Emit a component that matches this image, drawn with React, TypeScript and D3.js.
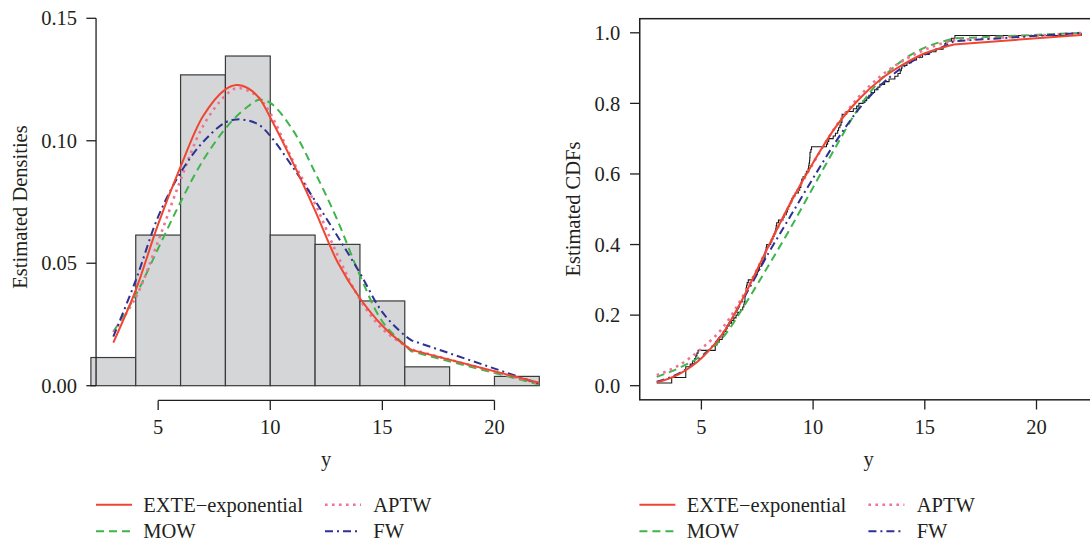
import React from 'react';
import * as d3 from 'd3';

// ---------- data ----------
const histBreaks = [2, 4, 6, 8, 10, 12, 14, 16, 18, 20, 22];
const histDensity = [0.0115, 0.0615, 0.1269, 0.1346, 0.0615, 0.0577, 0.0346, 0.0077, 0, 0.0038];

const pdfX = [3, 4, 5, 6, 7, 8, 8.5, 9, 9.5, 10, 11, 12, 13, 14, 15, 16, 16.3, 22];
const pdfEXTE = [0.0176, 0.039, 0.066, 0.0894, 0.11, 0.121, 0.1228, 0.1215, 0.1175, 0.1095, 0.0913, 0.0715, 0.0505, 0.0357, 0.0245, 0.0165, 0.0146, 0.0012];
const pdfAPTW = [0.0219, 0.036, 0.059, 0.084, 0.106, 0.1185, 0.1215, 0.1205, 0.1175, 0.1112, 0.092, 0.0743, 0.0533, 0.0352, 0.0232, 0.0165, 0.0148, 0.0008];
const pdfMOW = [0.022, 0.037, 0.056, 0.075, 0.092, 0.105, 0.11, 0.114, 0.1167, 0.1155, 0.1045, 0.087, 0.0675, 0.045, 0.0262, 0.0165, 0.014, 0.0005];
const pdfFW = [0.02, 0.043, 0.069, 0.087, 0.0995, 0.1075, 0.1087, 0.1083, 0.1065, 0.102, 0.0893, 0.0755, 0.061, 0.046, 0.03, 0.0205, 0.0185, 0.0008];

const cdfX = [3, 4, 5, 6, 7, 8, 9, 10, 11, 12, 13, 14, 15, 16, 16.3, 22];
const cdfEXTE = [0.009, 0.033, 0.078, 0.152, 0.265, 0.395, 0.52, 0.632, 0.732, 0.808, 0.867, 0.909, 0.942, 0.962, 0.967, 0.994];
const cdfAPTW = [0.03, 0.058, 0.105, 0.168, 0.27, 0.395, 0.518, 0.63, 0.733, 0.815, 0.876, 0.92, 0.952, 0.974, 0.979, 0.9995];
const cdfMOW = [0.025, 0.05, 0.085, 0.14, 0.235, 0.34, 0.448, 0.562, 0.675, 0.783, 0.865, 0.922, 0.958, 0.979, 0.984, 0.9998];
const cdfFW = [0.011, 0.035, 0.08, 0.153, 0.26, 0.375, 0.482, 0.588, 0.69, 0.78, 0.85, 0.902, 0.938, 0.966, 0.976, 0.9995];

// observed sample (sorted) for the empirical CDF
const obs = [
  3.0, 3.67, 3.67,
  4.3, 4.3, 4.3, 4.3, 4.5, 4.6, 4.7, 4.75, 4.8, 4.85,
  5.62, 5.62, 5.7, 5.8, 5.93, 5.97,
  6.0, 6.1, 6.15, 6.24, 6.35, 6.45, 6.55, 6.63, 6.75, 6.85,
  6.9, 6.92, 6.95, 6.95, 6.97, 7.0, 7.0, 7.02, 7.05, 7.1,
  7.35, 7.4, 7.5, 7.55, 7.6, 7.7, 7.75, 7.8, 7.85, 7.85, 7.88, 7.9, 7.92,
  8.1, 8.15, 8.2, 8.25, 8.3, 8.33, 8.35, 8.37, 8.45,
  8.65, 8.7, 8.8, 8.85, 8.9, 8.95, 9.0, 9.05, 9.11,
  9.2, 9.34, 9.4, 9.45, 9.47, 9.49, 9.55, 9.65, 9.7, 9.78,
  9.8, 9.82, 9.84, 9.85, 9.86, 9.86, 9.9, 9.93,
  10.6, 10.65, 10.7, 10.9, 11.0, 11.1, 11.14, 11.2, 11.25, 11.29, 11.29, 11.3, 11.5, 11.8, 11.95,
  12.05, 12.24, 12.4, 12.5, 12.6, 12.75, 12.9, 12.99, 13.2, 13.4, 13.66, 13.8, 13.9, 13.95, 13.98,
  14.2, 14.4, 14.63, 14.9, 15.2, 15.5, 15.82, 15.9, 15.95,
  16.2, 16.35,
  22.0,
];

const xTicks = [5, 10, 15, 20];
const yTicksL = [0, 0.05, 0.1, 0.15];
const yTickLabelsL = ['0.00', '0.05', '0.10', '0.15'];
const yTicksR = [0, 0.2, 0.4, 0.6, 0.8, 1.0];
const yTickLabelsR = ['0.0', '0.2', '0.4', '0.6', '0.8', '1.0'];

const seriesNames = ['EXTE\u2212exponential', 'MOW', 'APTW', 'FW'];
const seriesStyle: Record<string, { color: string; dash: string | undefined; width: number }> = {
  'EXTE\u2212exponential': { color: '#EF4631', dash: undefined, width: 2 },
  MOW: { color: '#3DB54A', dash: '8,5', width: 2 },
  APTW: { color: '#EE7394', dash: '2.6,4.4', width: 2.6 },
  FW: { color: '#2E3192', dash: '8,4,2,4', width: 2 },
};
const pdfSeries: Record<string, number[]> = {
  'EXTE\u2212exponential': pdfEXTE, MOW: pdfMOW, APTW: pdfAPTW, FW: pdfFW,
};
const cdfSeries: Record<string, number[]> = {
  'EXTE\u2212exponential': cdfEXTE, MOW: cdfMOW, APTW: cdfAPTW, FW: cdfFW,
};
const drawOrder = ['MOW', 'APTW', 'FW', 'EXTE\u2212exponential'];

const FONT = '"Liberation Serif", "Times New Roman", serif';
const TXT = '#231f20';
const FS = 20.5;

// ---------- scales ----------
const xL = d3.scaleLinear().domain([2, 22]).range([90.9, 539.3]);
const yL = d3.scaleLinear().domain([0, 0.15]).range([385.7, 18.3]);
const xR = d3.scaleLinear().domain([5, 20]).range([701.4, 1036.5]);
const yR = d3.scaleLinear().domain([0, 1]).range([385.7, 32.8]);

function curvePath(xs: number[], ys: number[], sx: any, sy: any, curve: any) {
  const kink = 16.3;
  const pts = xs.map((x, i) => [x, ys[i]] as [number, number]);
  const smooth = pts.filter((p) => p[0] <= kink);
  const tail = pts.filter((p) => p[0] > kink);
  const line = d3.line<[number, number]>().x((d) => sx(d[0])).y((d) => sy(d[1])).curve(curve);
  let p = line(smooth) || '';
  tail.forEach((t) => {
    p += `L${sx(t[0])},${sy(t[1])}`;
  });
  return p;
}

function Legend({ dx }: { dx: number }) {
  const cols = [
    { lineX: 96 + dx, textX: 143.3 + dx },
    { lineX: 325 + dx, textX: 373.3 + dx },
  ];
  const rows = [504.8, 531.2];
  return (
    <g>
      {seriesNames.map((name, i) => {
        const c = cols[Math.floor(i / 2)];
        const r = rows[i % 2];
        const st = seriesStyle[name];
        return (
          <g key={name}>
            <line x1={c.lineX} x2={c.lineX + 36} y1={r} y2={r} stroke={st.color} strokeWidth={st.width}
              strokeDasharray={st.dash} />
            <text x={c.textX} y={r + 7} fontFamily={FONT} fontSize={FS} fill={TXT}>{name}</text>
          </g>
        );
      })}
    </g>
  );
}

export default function App() {
  const ecdfPts = obs.map((v, i) => [v, (i + 1) / obs.length] as [number, number]);
  const ecdfLine = d3.line<[number, number]>().x((d) => xR(d[0])).y((d) => yR(d[1])).curve(d3.curveStepAfter);

  const axisYL = xL(2.23);
  const axisXL = yL(-0.006);
  const frameL = xR(2.24);
  const frameT = yR(1.04);
  const frameB = yR(-0.04);

  return (
    <svg width={1090} height={542} style={{ position: 'absolute', left: 0, top: 0, background: '#fff' }}>
      <rect x={0} y={0} width={1090} height={542} fill="#fff" />
      {/* ---------- LEFT: histogram + densities ---------- */}
      <g>
        {histDensity.map((d, i) => (
          <rect key={i} x={xL(histBreaks[i])} y={yL(d)} width={xL(histBreaks[i + 1]) - xL(histBreaks[i])}
            height={yL(0) - yL(d)} fill={d > 0 ? '#D5D6D8' : 'none'} stroke={d > 0 ? '#3a3a3a' : 'none'}
            strokeWidth={1.2} />
        ))}
        <line x1={xL(18)} x2={xL(20)} y1={yL(0)} y2={yL(0)} stroke="#3a3a3a" strokeWidth={1.2} />
        {drawOrder.map((name) => {
          const st = seriesStyle[name];
          return (
            <path key={name} d={curvePath(pdfX, pdfSeries[name], xL, yL, d3.curveCatmullRom.alpha(0.5))}
              fill="none" stroke={st.color} strokeWidth={st.width} strokeDasharray={st.dash} />
          );
        })}
        {/* y axis */}
        <line x1={axisYL} x2={axisYL} y1={yL(0)} y2={yL(0.15)} stroke={TXT} strokeWidth={1.3} />
        {yTicksL.map((t, i) => (
          <g key={t}>
            <line x1={axisYL - 9.7} x2={axisYL} y1={yL(t)} y2={yL(t)} stroke={TXT} strokeWidth={1.3} />
            <text x={axisYL - 19} y={yL(t)} dy="0.35em" textAnchor="end" fontFamily={FONT} fontSize={FS} fill={TXT}>
              {yTickLabelsL[i]}
            </text>
          </g>
        ))}
        {/* x axis */}
        <line x1={xL(5)} x2={xL(20)} y1={axisXL} y2={axisXL} stroke={TXT} strokeWidth={1.3} />
        {xTicks.map((t) => (
          <g key={t}>
            <line x1={xL(t)} x2={xL(t)} y1={axisXL} y2={axisXL + 9.7} stroke={TXT} strokeWidth={1.3} />
            <text x={xL(t)} y={433.5} textAnchor="middle" fontFamily={FONT} fontSize={FS} fill={TXT}>{t}</text>
          </g>
        ))}
        <text x={326} y={466} textAnchor="middle" fontFamily={FONT} fontSize={FS} fill={TXT}>y</text>
        <text transform="translate(27,207) rotate(-90)" textAnchor="middle" fontFamily={FONT} fontSize={FS} fill={TXT}>
          Estimated Densities
        </text>
        <Legend dx={0} />
      </g>

      {/* ---------- RIGHT: CDFs ---------- */}
      <g>
        <path d={ecdfLine(ecdfPts) || ''} fill="none" stroke="#1a1a1a" strokeWidth={1.1} />
        {drawOrder.map((name) => {
          const st = seriesStyle[name];
          return (
            <path key={name} d={curvePath(cdfX, cdfSeries[name], xR, yR, d3.curveMonotoneX)}
              fill="none" stroke={st.color} strokeWidth={st.width} strokeDasharray={st.dash} />
          );
        })}
        <rect x={frameL} y={frameT} width={1200 - frameL} height={frameB - frameT} fill="none" stroke={TXT}
          strokeWidth={1.5} />
        {yTicksR.map((t, i) => (
          <g key={t}>
            <line x1={frameL - 9.7} x2={frameL} y1={yR(t)} y2={yR(t)} stroke={TXT} strokeWidth={1.3} />
            <text x={frameL - 19.5} y={yR(t)} dy="0.35em" textAnchor="end" fontFamily={FONT} fontSize={FS} fill={TXT}>
              {yTickLabelsR[i]}
            </text>
          </g>
        ))}
        {xTicks.map((t) => (
          <g key={t}>
            <line x1={xR(t)} x2={xR(t)} y1={frameB} y2={frameB + 9.7} stroke={TXT} strokeWidth={1.3} />
            <text x={xR(t)} y={433.5} textAnchor="middle" fontFamily={FONT} fontSize={FS} fill={TXT}>{t}</text>
          </g>
        ))}
        <text x={868.5} y={466} textAnchor="middle" fontFamily={FONT} fontSize={FS} fill={TXT}>y</text>
        <text transform="translate(580,209) rotate(-90)" textAnchor="middle" fontFamily={FONT} fontSize={FS} fill={TXT}>
          Estimated CDFs
        </text>
        <Legend dx={543.4} />
      </g>
    </svg>
  );
}
